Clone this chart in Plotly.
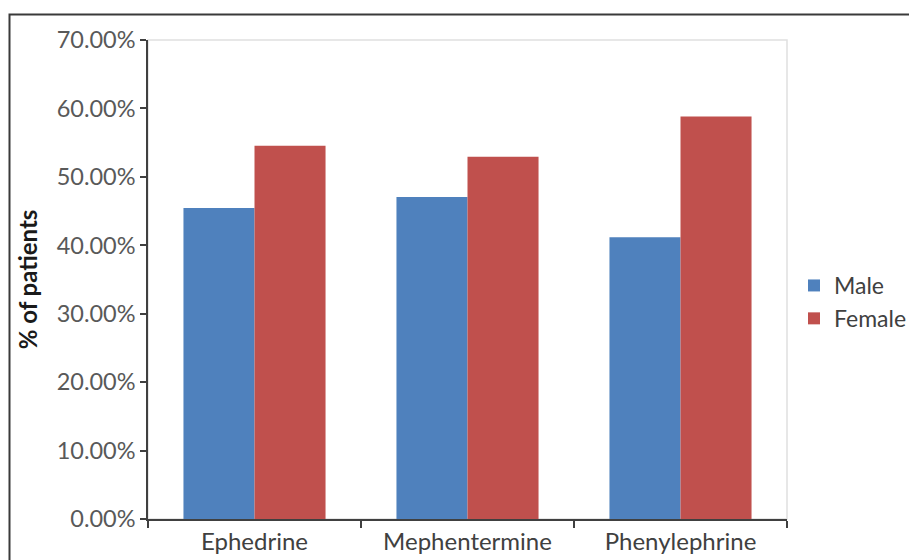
import plotly.graph_objects as go

categories = ["Ephedrine", "Mephentermine", "Phenylephrine"]
male = [45.45, 47.06, 41.18]
female = [54.55, 52.94, 58.82]
y_ticks = [0, 10, 20, 30, 40, 50, 60, 70]
y_tick_labels = ["%.2f%%" % v for v in y_ticks]

W, H = 909, 560
L, R, T, B = 148, 909 - 787, 40, 560 - 519
pw, ph = W - L - R, H - T - B

def px2x(p):
    return (p - L) / pw

def py2y(p):
    return (H - B - p) / ph

FONT = "Lato, 'Open Sans', sans-serif"

fig = go.Figure()
fig.add_trace(go.Bar(name="Male", x=categories, y=male, marker=dict(color="#4F81BD", line=dict(width=0))))
fig.add_trace(go.Bar(name="Female", x=categories, y=female, marker=dict(color="#C0504D", line=dict(width=0))))

fig.update_layout(
    width=W, height=H,
    margin=dict(l=L, r=R, t=T, b=B, pad=0, autoexpand=False),
    paper_bgcolor="white", plot_bgcolor="white",
    barmode="group", bargap=0.333, bargroupgap=0,
    font=dict(family=FONT, color="#595959", size=23),
    showlegend=True,
    legend=dict(x=px2x(794), y=py2y(302), xanchor="left", yanchor="middle",
                font=dict(size=23, color="#404040", family=FONT),
                bgcolor="rgba(0,0,0,0)", tracegroupgap=0, itemwidth=30),
    xaxis=dict(
        type="category", showgrid=False, zeroline=False,
        showline=True, linecolor="#404040", linewidth=1.5,
        ticks="outside", tickson="boundaries", ticklen=7, tickwidth=1.5, tickcolor="#404040",
        tickfont=dict(size=24, color="#404040", family=FONT),
    ),
    yaxis=dict(
        range=[0, 70], tickvals=y_ticks, ticktext=y_tick_labels,
        showgrid=False, zeroline=False,
        showline=True, linecolor="#404040", linewidth=1.5,
        ticks="outside", ticklen=6, tickwidth=1.5, tickcolor="#404040",
        tickfont=dict(size=23.5, color="#595959", family=FONT),
        title=dict(text="<b>% of patients</b>", font=dict(size=24, color="#1a1a1a", family=FONT), standoff=12),
    ),
    shapes=[
        dict(type="rect", xref="paper", yref="paper", x0=0, x1=1, y0=0, y1=1,
             line=dict(color="#E0E0E0", width=1.5), layer="below"),
        dict(type="rect", xref="paper", yref="paper", x0=px2x(9.5), x1=px2x(1000),
             y0=py2y(700), y1=py2y(14.5), line=dict(color="#3a3a3a", width=2)),
    ],
)

fig.write_html("out.html")
